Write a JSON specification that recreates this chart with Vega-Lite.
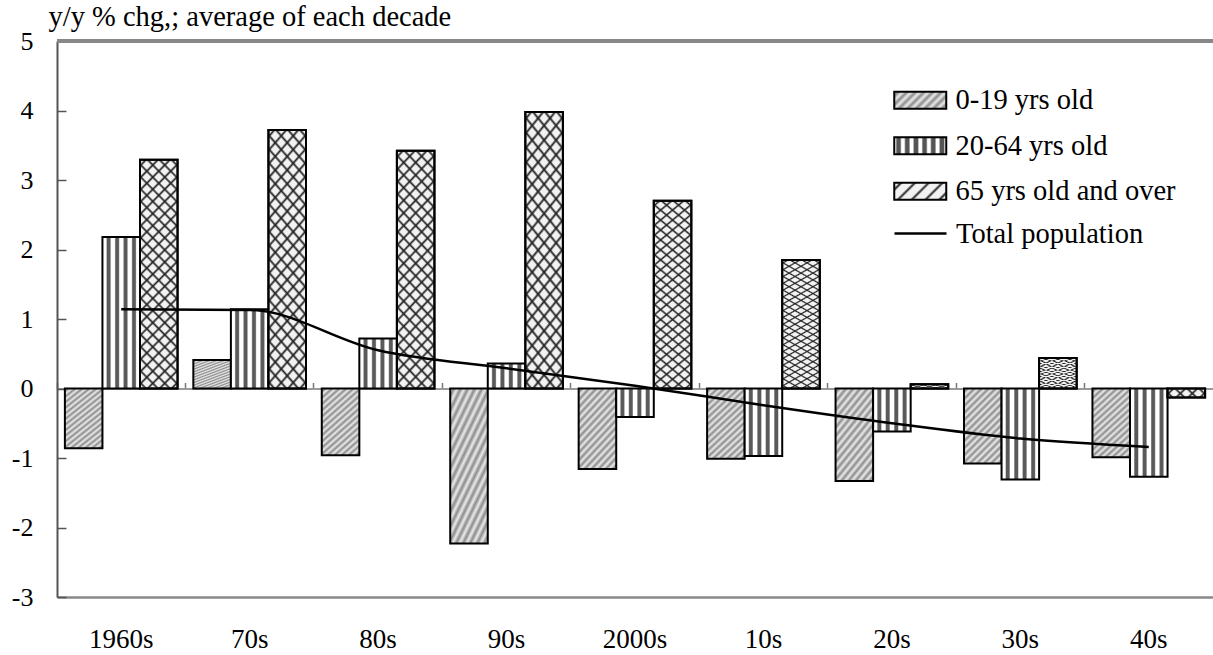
{
  "$schema": "https://vega.github.io/schema/vega-lite/v6.json",
  "autosize": {"type": "none"},
  "padding": {"left": 57, "top": 41, "right": 0, "bottom": 58},
  "width": 1156,
  "height": 556,
  "background": "white",
  "config": {"view": {"stroke": null}, "font": "Liberation Serif"},
  "data": {"values": [
    {"decade": "1960s", "series": "0-19 yrs old", "value": -0.86},
    {"decade": "70s", "series": "0-19 yrs old", "value": 0.41},
    {"decade": "80s", "series": "0-19 yrs old", "value": -0.96},
    {"decade": "90s", "series": "0-19 yrs old", "value": -2.23},
    {"decade": "2000s", "series": "0-19 yrs old", "value": -1.16},
    {"decade": "10s", "series": "0-19 yrs old", "value": -1.01},
    {"decade": "20s", "series": "0-19 yrs old", "value": -1.33},
    {"decade": "30s", "series": "0-19 yrs old", "value": -1.08},
    {"decade": "40s", "series": "0-19 yrs old", "value": -0.99},
    {"decade": "1960s", "series": "20-64 yrs old", "value": 2.18},
    {"decade": "70s", "series": "20-64 yrs old", "value": 1.14},
    {"decade": "80s", "series": "20-64 yrs old", "value": 0.72},
    {"decade": "90s", "series": "20-64 yrs old", "value": 0.36},
    {"decade": "2000s", "series": "20-64 yrs old", "value": -0.41},
    {"decade": "10s", "series": "20-64 yrs old", "value": -0.97},
    {"decade": "20s", "series": "20-64 yrs old", "value": -0.62},
    {"decade": "30s", "series": "20-64 yrs old", "value": -1.31},
    {"decade": "40s", "series": "20-64 yrs old", "value": -1.27},
    {"decade": "1960s", "series": "65 yrs old and over", "value": 3.29},
    {"decade": "70s", "series": "65 yrs old and over", "value": 3.72},
    {"decade": "80s", "series": "65 yrs old and over", "value": 3.42},
    {"decade": "90s", "series": "65 yrs old and over", "value": 3.98},
    {"decade": "2000s", "series": "65 yrs old and over", "value": 2.70},
    {"decade": "10s", "series": "65 yrs old and over", "value": 1.85},
    {"decade": "20s", "series": "65 yrs old and over", "value": 0.06},
    {"decade": "30s", "series": "65 yrs old and over", "value": 0.44},
    {"decade": "40s", "series": "65 yrs old and over", "value": -0.13},
    {"decade": "1960s", "series": "Total population", "value": 1.14},
    {"decade": "70s", "series": "Total population", "value": 1.13},
    {"decade": "80s", "series": "Total population", "value": 0.55},
    {"decade": "90s", "series": "Total population", "value": 0.29},
    {"decade": "2000s", "series": "Total population", "value": 0.04},
    {"decade": "10s", "series": "Total population", "value": -0.24},
    {"decade": "20s", "series": "Total population", "value": -0.50},
    {"decade": "30s", "series": "Total population", "value": -0.72},
    {"decade": "40s", "series": "Total population", "value": -0.84}
  ]},
  "layer": [
    {
      "mark": {"type": "rule", "color": "#888888", "strokeWidth": 2.5},
      "encoding": {
        "y": {"datum": 5, "type": "quantitative", "title": "y/y % chg,; average of each decade"}
      }
    },
    {
      "encoding": {
        "x": {"field": "decade", "type": "nominal",
          "scale": {"domain": ["1960s","70s","80s","90s","2000s","10s","20s","30s","40s"], "paddingInner": 0, "paddingOuter": 0},
          "axis": {"orient": "bottom", "title": null, "ticks": false, "domainColor": "#888888", "domainWidth": 2.5, "labelFont": "Liberation Serif", "labelFontSize": 27, "labelColor": "black", "labelPadding": 29, "labelAngle": 0, "grid": false}},
        "xOffset": {"field": "series", "type": "nominal",
          "scale": {"domain": ["0-19 yrs old", "20-64 yrs old", "65 yrs old and over"], "paddingInner": 0, "paddingOuter": 0.21}},
        "y": {"field": "value", "type": "quantitative", "scale": {"domain": [-3, 5], "nice": false},
          "title": "y/y % chg,; average of each decade",
          "axis": {"values": [-3,-2,-1,0,1,2,3,4,5], "labelExpr": "'' + datum.value", "grid": false, "domainColor": "#555555", "domainWidth": 2, "tickColor": "#555555", "tickWidth": 1.5, "tickSize": -9, "labelFont": "Liberation Serif", "labelFontSize": 26, "labelColor": "black", "labelPadding": 33, "titleFont": "Liberation Serif", "titleAngle": 0, "titleAlign": "left", "titleBaseline": "alphabetic", "titleX": -9, "titleY": -16, "titleFontSize": 28.5, "titleFontWeight": "normal", "titleColor": "black"}}
      },
      "layer": [
        {
          "transform": [{"filter": "datum.series === '0-19 yrs old'"}],
          "mark": {"type": "bar", "stroke": "black", "strokeWidth": 2,
            "fill": {"gradient": "linear", "x1": 0, "y1": 0, "x2": 0.6, "y2": 1.2, "stops": [
                {"offset": 0, "color": "#ebebeb"}, {"offset": 0.03125, "color": "#8c8c8c"}, {"offset": 0.0625, "color": "#ebebeb"}, {"offset": 0.09375, "color": "#8c8c8c"},
                {"offset": 0.125, "color": "#ebebeb"}, {"offset": 0.15625, "color": "#8c8c8c"}, {"offset": 0.1875, "color": "#ebebeb"}, {"offset": 0.21875, "color": "#8c8c8c"},
                {"offset": 0.25, "color": "#ebebeb"}, {"offset": 0.28125, "color": "#8c8c8c"}, {"offset": 0.3125, "color": "#ebebeb"}, {"offset": 0.34375, "color": "#8c8c8c"},
                {"offset": 0.375, "color": "#ebebeb"}, {"offset": 0.40625, "color": "#8c8c8c"}, {"offset": 0.4375, "color": "#ebebeb"}, {"offset": 0.46875, "color": "#8c8c8c"},
                {"offset": 0.5, "color": "#ebebeb"}, {"offset": 0.53125, "color": "#8c8c8c"}, {"offset": 0.5625, "color": "#ebebeb"}, {"offset": 0.59375, "color": "#8c8c8c"},
                {"offset": 0.625, "color": "#ebebeb"}, {"offset": 0.65625, "color": "#8c8c8c"}, {"offset": 0.6875, "color": "#ebebeb"}, {"offset": 0.71875, "color": "#8c8c8c"},
                {"offset": 0.75, "color": "#ebebeb"}, {"offset": 0.78125, "color": "#8c8c8c"}, {"offset": 0.8125, "color": "#ebebeb"}, {"offset": 0.84375, "color": "#8c8c8c"},
                {"offset": 0.875, "color": "#ebebeb"}, {"offset": 0.90625, "color": "#8c8c8c"}, {"offset": 0.9375, "color": "#ebebeb"}, {"offset": 0.96875, "color": "#8c8c8c"},
                {"offset": 1, "color": "#ebebeb"}]}}
        },
        {
          "transform": [{"filter": "datum.series === '20-64 yrs old'"}],
          "mark": {"type": "bar", "stroke": "black", "strokeWidth": 2,
            "fill": {"gradient": "linear", "x1": 0, "y1": 0, "x2": 1, "y2": 0, "stops": [
                {"offset": 0, "color": "#ffffff"},
                {"offset": 0.095, "color": "#ffffff"}, {"offset": 0.13, "color": "#5a5a5a"}, {"offset": 0.2, "color": "#5a5a5a"}, {"offset": 0.235, "color": "#ffffff"},
                {"offset": 0.32, "color": "#ffffff"}, {"offset": 0.355, "color": "#5a5a5a"}, {"offset": 0.425, "color": "#5a5a5a"}, {"offset": 0.46, "color": "#ffffff"},
                {"offset": 0.545, "color": "#ffffff"}, {"offset": 0.58, "color": "#5a5a5a"}, {"offset": 0.65, "color": "#5a5a5a"}, {"offset": 0.685, "color": "#ffffff"},
                {"offset": 0.77, "color": "#ffffff"}, {"offset": 0.805, "color": "#5a5a5a"}, {"offset": 0.875, "color": "#5a5a5a"}, {"offset": 0.91, "color": "#ffffff"},
                {"offset": 1, "color": "#ffffff"}]}}
        },
        {
          "transform": [{"filter": "datum.series === '65 yrs old and over'"}],
          "mark": {"type": "bar", "stroke": "black", "strokeWidth": 2,
            "fill": {"gradient": "linear", "x1": 0, "y1": 0, "x2": 0.189, "y2": 1.135, "stops": [
                {"offset": 0, "color": "#f2f2f2"},
                {"offset": 0.0136, "color": "#f2f2f2"}, {"offset": 0.0227, "color": "#222222"}, {"offset": 0.0318, "color": "#f2f2f2"},
                {"offset": 0.0591, "color": "#f2f2f2"}, {"offset": 0.0682, "color": "#222222"}, {"offset": 0.0773, "color": "#f2f2f2"},
                {"offset": 0.1045, "color": "#f2f2f2"}, {"offset": 0.1136, "color": "#222222"}, {"offset": 0.1227, "color": "#f2f2f2"},
                {"offset": 0.15, "color": "#f2f2f2"}, {"offset": 0.1591, "color": "#222222"}, {"offset": 0.1682, "color": "#f2f2f2"},
                {"offset": 0.1955, "color": "#f2f2f2"}, {"offset": 0.2045, "color": "#222222"}, {"offset": 0.2136, "color": "#f2f2f2"},
                {"offset": 0.2409, "color": "#f2f2f2"}, {"offset": 0.25, "color": "#222222"}, {"offset": 0.2591, "color": "#f2f2f2"},
                {"offset": 0.2864, "color": "#f2f2f2"}, {"offset": 0.2955, "color": "#222222"}, {"offset": 0.3045, "color": "#f2f2f2"},
                {"offset": 0.3318, "color": "#f2f2f2"}, {"offset": 0.3409, "color": "#222222"}, {"offset": 0.35, "color": "#f2f2f2"},
                {"offset": 0.3773, "color": "#f2f2f2"}, {"offset": 0.3864, "color": "#222222"}, {"offset": 0.3955, "color": "#f2f2f2"},
                {"offset": 0.4227, "color": "#f2f2f2"}, {"offset": 0.4318, "color": "#222222"}, {"offset": 0.4409, "color": "#f2f2f2"},
                {"offset": 0.4682, "color": "#f2f2f2"}, {"offset": 0.4773, "color": "#222222"}, {"offset": 0.4864, "color": "#f2f2f2"},
                {"offset": 0.5136, "color": "#f2f2f2"}, {"offset": 0.5227, "color": "#222222"}, {"offset": 0.5318, "color": "#f2f2f2"},
                {"offset": 0.5591, "color": "#f2f2f2"}, {"offset": 0.5682, "color": "#222222"}, {"offset": 0.5773, "color": "#f2f2f2"},
                {"offset": 0.6045, "color": "#f2f2f2"}, {"offset": 0.6136, "color": "#222222"}, {"offset": 0.6227, "color": "#f2f2f2"},
                {"offset": 0.65, "color": "#f2f2f2"}, {"offset": 0.6591, "color": "#222222"}, {"offset": 0.6682, "color": "#f2f2f2"},
                {"offset": 0.6955, "color": "#f2f2f2"}, {"offset": 0.7045, "color": "#222222"}, {"offset": 0.7136, "color": "#f2f2f2"},
                {"offset": 0.7409, "color": "#f2f2f2"}, {"offset": 0.75, "color": "#222222"}, {"offset": 0.7591, "color": "#f2f2f2"},
                {"offset": 0.7864, "color": "#f2f2f2"}, {"offset": 0.7955, "color": "#222222"}, {"offset": 0.8045, "color": "#f2f2f2"},
                {"offset": 0.8318, "color": "#f2f2f2"}, {"offset": 0.8409, "color": "#222222"}, {"offset": 0.85, "color": "#f2f2f2"},
                {"offset": 0.8773, "color": "#f2f2f2"}, {"offset": 0.8864, "color": "#222222"}, {"offset": 0.8955, "color": "#f2f2f2"},
                {"offset": 0.9227, "color": "#f2f2f2"}, {"offset": 0.9318, "color": "#222222"}, {"offset": 0.9409, "color": "#f2f2f2"},
                {"offset": 0.9682, "color": "#f2f2f2"}, {"offset": 0.9773, "color": "#222222"}, {"offset": 0.9864, "color": "#f2f2f2"},
                {"offset": 1, "color": "#f2f2f2"}]}}
        },
        {
          "transform": [{"filter": "datum.series === '65 yrs old and over'"}],
          "mark": {"type": "bar", "stroke": "black", "strokeWidth": 2,
            "fill": {"gradient": "linear", "x1": 0, "y1": 1, "x2": 0.189, "y2": -0.135, "stops": [
                {"offset": 0, "color": "rgba(34,34,34,0)"},
                {"offset": 0.0136, "color": "rgba(34,34,34,0)"}, {"offset": 0.0227, "color": "#222222"}, {"offset": 0.0318, "color": "rgba(34,34,34,0)"},
                {"offset": 0.0591, "color": "rgba(34,34,34,0)"}, {"offset": 0.0682, "color": "#222222"}, {"offset": 0.0773, "color": "rgba(34,34,34,0)"},
                {"offset": 0.1045, "color": "rgba(34,34,34,0)"}, {"offset": 0.1136, "color": "#222222"}, {"offset": 0.1227, "color": "rgba(34,34,34,0)"},
                {"offset": 0.15, "color": "rgba(34,34,34,0)"}, {"offset": 0.1591, "color": "#222222"}, {"offset": 0.1682, "color": "rgba(34,34,34,0)"},
                {"offset": 0.1955, "color": "rgba(34,34,34,0)"}, {"offset": 0.2045, "color": "#222222"}, {"offset": 0.2136, "color": "rgba(34,34,34,0)"},
                {"offset": 0.2409, "color": "rgba(34,34,34,0)"}, {"offset": 0.25, "color": "#222222"}, {"offset": 0.2591, "color": "rgba(34,34,34,0)"},
                {"offset": 0.2864, "color": "rgba(34,34,34,0)"}, {"offset": 0.2955, "color": "#222222"}, {"offset": 0.3045, "color": "rgba(34,34,34,0)"},
                {"offset": 0.3318, "color": "rgba(34,34,34,0)"}, {"offset": 0.3409, "color": "#222222"}, {"offset": 0.35, "color": "rgba(34,34,34,0)"},
                {"offset": 0.3773, "color": "rgba(34,34,34,0)"}, {"offset": 0.3864, "color": "#222222"}, {"offset": 0.3955, "color": "rgba(34,34,34,0)"},
                {"offset": 0.4227, "color": "rgba(34,34,34,0)"}, {"offset": 0.4318, "color": "#222222"}, {"offset": 0.4409, "color": "rgba(34,34,34,0)"},
                {"offset": 0.4682, "color": "rgba(34,34,34,0)"}, {"offset": 0.4773, "color": "#222222"}, {"offset": 0.4864, "color": "rgba(34,34,34,0)"},
                {"offset": 0.5136, "color": "rgba(34,34,34,0)"}, {"offset": 0.5227, "color": "#222222"}, {"offset": 0.5318, "color": "rgba(34,34,34,0)"},
                {"offset": 0.5591, "color": "rgba(34,34,34,0)"}, {"offset": 0.5682, "color": "#222222"}, {"offset": 0.5773, "color": "rgba(34,34,34,0)"},
                {"offset": 0.6045, "color": "rgba(34,34,34,0)"}, {"offset": 0.6136, "color": "#222222"}, {"offset": 0.6227, "color": "rgba(34,34,34,0)"},
                {"offset": 0.65, "color": "rgba(34,34,34,0)"}, {"offset": 0.6591, "color": "#222222"}, {"offset": 0.6682, "color": "rgba(34,34,34,0)"},
                {"offset": 0.6955, "color": "rgba(34,34,34,0)"}, {"offset": 0.7045, "color": "#222222"}, {"offset": 0.7136, "color": "rgba(34,34,34,0)"},
                {"offset": 0.7409, "color": "rgba(34,34,34,0)"}, {"offset": 0.75, "color": "#222222"}, {"offset": 0.7591, "color": "rgba(34,34,34,0)"},
                {"offset": 0.7864, "color": "rgba(34,34,34,0)"}, {"offset": 0.7955, "color": "#222222"}, {"offset": 0.8045, "color": "rgba(34,34,34,0)"},
                {"offset": 0.8318, "color": "rgba(34,34,34,0)"}, {"offset": 0.8409, "color": "#222222"}, {"offset": 0.85, "color": "rgba(34,34,34,0)"},
                {"offset": 0.8773, "color": "rgba(34,34,34,0)"}, {"offset": 0.8864, "color": "#222222"}, {"offset": 0.8955, "color": "rgba(34,34,34,0)"},
                {"offset": 0.9227, "color": "rgba(34,34,34,0)"}, {"offset": 0.9318, "color": "#222222"}, {"offset": 0.9409, "color": "rgba(34,34,34,0)"},
                {"offset": 0.9682, "color": "rgba(34,34,34,0)"}, {"offset": 0.9773, "color": "#222222"}, {"offset": 0.9864, "color": "rgba(34,34,34,0)"},
                {"offset": 1, "color": "rgba(34,34,34,0)"}]}}
        },
        {
          "transform": [{"filter": "false"}],
          "mark": {"type": "bar", "stroke": "black", "strokeWidth": 2},
          "encoding": {
            "fill": {"field": "series", "type": "nominal",
              "scale": {"domain": ["0-19 yrs old", "20-64 yrs old", "65 yrs old and over"], "range": [
                {"expr": "{gradient: 'linear', x1: 0, y1: 0, x2: 1.199, y2: 0.392, stops: [{offset: 0, color: '#ebebeb'}, {offset: 0.0625, color: '#8c8c8c'}, {offset: 0.125, color: '#ebebeb'}, {offset: 0.1875, color: '#8c8c8c'}, {offset: 0.25, color: '#ebebeb'}, {offset: 0.3125, color: '#8c8c8c'}, {offset: 0.375, color: '#ebebeb'}, {offset: 0.4375, color: '#8c8c8c'}, {offset: 0.5, color: '#ebebeb'}, {offset: 0.5625, color: '#8c8c8c'}, {offset: 0.625, color: '#ebebeb'}, {offset: 0.6875, color: '#8c8c8c'}, {offset: 0.75, color: '#ebebeb'}, {offset: 0.8125, color: '#8c8c8c'}, {offset: 0.875, color: '#ebebeb'}, {offset: 0.9375, color: '#8c8c8c'}, {offset: 1, color: '#ebebeb'}]}"},
                {"expr": "{gradient: 'linear', x1: 0, y1: 0, x2: 1, y2: 0, stops: [{offset: 0, color: '#ffffff'}, {offset: 0.023, color: '#ffffff'}, {offset: 0.053, color: '#555555'}, {offset: 0.113, color: '#555555'}, {offset: 0.143, color: '#ffffff'}, {offset: 0.19, color: '#ffffff'}, {offset: 0.22, color: '#555555'}, {offset: 0.28, color: '#555555'}, {offset: 0.31, color: '#ffffff'}, {offset: 0.357, color: '#ffffff'}, {offset: 0.387, color: '#555555'}, {offset: 0.447, color: '#555555'}, {offset: 0.477, color: '#ffffff'}, {offset: 0.523, color: '#ffffff'}, {offset: 0.553, color: '#555555'}, {offset: 0.613, color: '#555555'}, {offset: 0.643, color: '#ffffff'}, {offset: 0.69, color: '#ffffff'}, {offset: 0.72, color: '#555555'}, {offset: 0.78, color: '#555555'}, {offset: 0.81, color: '#ffffff'}, {offset: 0.857, color: '#ffffff'}, {offset: 0.887, color: '#555555'}, {offset: 0.947, color: '#555555'}, {offset: 0.977, color: '#ffffff'}, {offset: 1, color: '#ffffff'}]}"},
                {"expr": "{gradient: 'linear', x1: 0, y1: 0, x2: 1.199, y2: 0.392, stops: [{offset: 0, color: '#f2f2f2'}, {offset: 0.06, color: '#f2f2f2'}, {offset: 0.1, color: '#222222'}, {offset: 0.14, color: '#f2f2f2'}, {offset: 0.26, color: '#f2f2f2'}, {offset: 0.3, color: '#222222'}, {offset: 0.34, color: '#f2f2f2'}, {offset: 0.46, color: '#f2f2f2'}, {offset: 0.5, color: '#222222'}, {offset: 0.54, color: '#f2f2f2'}, {offset: 0.66, color: '#f2f2f2'}, {offset: 0.7, color: '#222222'}, {offset: 0.74, color: '#f2f2f2'}, {offset: 0.86, color: '#f2f2f2'}, {offset: 0.9, color: '#222222'}, {offset: 0.94, color: '#f2f2f2'}, {offset: 1, color: '#f2f2f2'}]}"}
              ]},
              "legend": {"orient": "none", "legendX": 836, "legendY": 45, "title": null, "padding": 0,
                "symbolType": "M-1,-0.65H3V0.65H-1Z", "symbolSize": 676, "symbolStrokeColor": "black", "symbolStrokeWidth": 2, "symbolOpacity": 1,
                "labelFontSize": 28.5, "labelFont": "Liberation Serif", "labelColor": "black", "labelOffset": 34, "rowPadding": 16.5, "labelLimit": 400}}
          }
        }
      ]
    },
    {
      "transform": [{"filter": "datum.series === 'Total population'"}],
      "mark": {"type": "line", "strokeWidth": 2.5, "interpolate": "monotone"},
      "encoding": {
        "x": {"field": "decade", "type": "nominal",
          "scale": {"domain": ["1960s","70s","80s","90s","2000s","10s","20s","30s","40s"], "paddingInner": 0, "paddingOuter": 0},
          "axis": {"orient": "top", "offset": -347.5, "title": null, "labels": false, "grid": false, "domainColor": "#999999", "domainWidth": 2, "ticks": true, "tickSize": 6, "tickColor": "#777777", "tickWidth": 1.5, "bandPosition": 0}},
        "y": {"field": "value", "type": "quantitative", "title": "y/y % chg,; average of each decade"},
        "stroke": {"field": "series", "type": "nominal", "scale": {"domain": ["Total population"], "range": ["black"]},
          "legend": {"orient": "none", "legendX": 836, "legendY": 178, "title": null, "padding": 0,
            "symbolType": "M-1,0H3", "symbolSize": 676, "symbolStrokeWidth": 2.5,
            "labelFontSize": 28.5, "labelFont": "Liberation Serif", "labelColor": "black", "labelOffset": 34, "labelLimit": 400}}
      }
    }
  ],
  "resolve": {"axis": {"x": "independent"}}
}
